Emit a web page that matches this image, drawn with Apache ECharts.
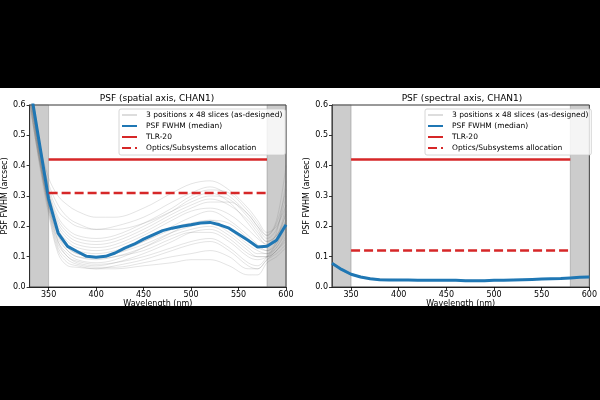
<!DOCTYPE html>
<html>
<head>
<meta charset="utf-8">
<script src="https://cdn.jsdelivr.net/npm/echarts@6/dist/echarts.min.js"></script>
<style>
  html, body { margin: 0; padding: 0; background: #000; }
  #chart { width: 600px; height: 400px; }
</style>
</head>
<body>
<div id="chart"></div>
<script>
// wavelength grid of the median curves (nm)
var medWl = [330, 340, 350, 360, 370, 380, 390, 400, 410, 420, 430, 440, 450, 460, 470,
  480, 490, 500, 510, 520, 530, 540, 550, 560, 570, 580, 590, 600];
var spatialMedian = [0.67, 0.48, 0.29, 0.178, 0.134, 0.117, 0.101, 0.098, 0.101, 0.112, 0.128, 0.141, 0.158, 0.172, 0.186,
  0.194, 0.2, 0.205, 0.211, 0.213, 0.205, 0.194, 0.174, 0.154, 0.132, 0.134, 0.154, 0.205];
var spectralMedian = [0.078, 0.058, 0.042, 0.033, 0.027, 0.024, 0.023, 0.023, 0.023, 0.022, 0.022, 0.022, 0.022, 0.022, 0.021,
  0.021, 0.021, 0.022, 0.022, 0.023, 0.024, 0.025, 0.026, 0.027, 0.028, 0.030, 0.032, 0.033];

// wavelength grid of the individual slice curves (nm)
var sliceWl = [330, 340, 350, 360, 370, 380, 400, 420, 450, 480, 500, 520, 540, 560, 570, 580, 590, 600];
var spatialSlices = [
  [0.66, 0.48, 0.36, 0.30, 0.27, 0.25, 0.23, 0.23, 0.26, 0.31, 0.34, 0.35, 0.32, 0.26, 0.22, 0.18, 0.20, 0.27],
  [0.64, 0.46, 0.34, 0.27, 0.23, 0.21, 0.19, 0.20, 0.23, 0.28, 0.31, 0.33, 0.30, 0.24, 0.20, 0.16, 0.19, 0.30],
  [0.70, 0.48, 0.31, 0.21, 0.17, 0.15, 0.14, 0.15, 0.19, 0.24, 0.27, 0.29, 0.27, 0.22, 0.18, 0.15, 0.17, 0.24],
  [0.62, 0.43, 0.29, 0.19, 0.15, 0.13, 0.12, 0.13, 0.17, 0.22, 0.25, 0.26, 0.24, 0.19, 0.16, 0.14, 0.18, 0.35],
  [0.68, 0.46, 0.28, 0.17, 0.13, 0.11, 0.10, 0.11, 0.15, 0.20, 0.23, 0.25, 0.22, 0.17, 0.14, 0.12, 0.14, 0.20],
  [0.66, 0.44, 0.27, 0.15, 0.11, 0.09, 0.08, 0.09, 0.13, 0.18, 0.21, 0.22, 0.19, 0.14, 0.12, 0.11, 0.13, 0.18],
  [0.60, 0.42, 0.26, 0.14, 0.10, 0.08, 0.07, 0.08, 0.11, 0.15, 0.18, 0.19, 0.16, 0.11, 0.10, 0.10, 0.12, 0.16],
  [0.64, 0.43, 0.25, 0.12, 0.08, 0.07, 0.06, 0.07, 0.09, 0.12, 0.14, 0.15, 0.12, 0.07, 0.06, 0.09, 0.11, 0.14],
  [0.62, 0.41, 0.24, 0.11, 0.07, 0.065, 0.06, 0.06, 0.07, 0.08, 0.09, 0.09, 0.07, 0.04, 0.04, 0.08, 0.10, 0.13],
  [0.66, 0.44, 0.26, 0.13, 0.09, 0.075, 0.065, 0.065, 0.08, 0.10, 0.11, 0.12, 0.10, 0.06, 0.06, 0.09, 0.12, 0.15],
  [0.68, 0.47, 0.30, 0.20, 0.16, 0.14, 0.13, 0.14, 0.18, 0.23, 0.26, 0.28, 0.28, 0.24, 0.20, 0.17, 0.21, 0.32],
  [0.70, 0.49, 0.33, 0.25, 0.22, 0.20, 0.19, 0.19, 0.21, 0.25, 0.28, 0.30, 0.29, 0.23, 0.19, 0.15, 0.17, 0.22],
  [0.65, 0.45, 0.30, 0.19, 0.14, 0.12, 0.11, 0.12, 0.15, 0.19, 0.21, 0.21, 0.18, 0.13, 0.11, 0.11, 0.15, 0.25],
  [0.63, 0.44, 0.28, 0.16, 0.12, 0.10, 0.09, 0.10, 0.12, 0.16, 0.18, 0.18, 0.15, 0.10, 0.09, 0.10, 0.13, 0.19],
  [0.67, 0.46, 0.31, 0.22, 0.18, 0.16, 0.15, 0.16, 0.20, 0.25, 0.29, 0.31, 0.28, 0.21, 0.17, 0.14, 0.16, 0.27],
  [0.61, 0.42, 0.27, 0.17, 0.12, 0.10, 0.095, 0.10, 0.13, 0.17, 0.19, 0.20, 0.17, 0.12, 0.10, 0.10, 0.12, 0.17],
  [0.69, 0.48, 0.32, 0.23, 0.19, 0.17, 0.16, 0.17, 0.21, 0.26, 0.30, 0.32, 0.31, 0.25, 0.21, 0.17, 0.22, 0.40],
  [0.65, 0.45, 0.29, 0.18, 0.13, 0.11, 0.10, 0.11, 0.14, 0.18, 0.20, 0.22, 0.21, 0.16, 0.13, 0.12, 0.15, 0.22],
  [0.63, 0.43, 0.27, 0.15, 0.10, 0.085, 0.075, 0.08, 0.10, 0.13, 0.15, 0.16, 0.13, 0.08, 0.07, 0.10, 0.14, 0.21]
];
var spectralSlices = [
  [0.082, 0.061, 0.045, 0.035, 0.029, 0.026, 0.024, 0.023, 0.023, 0.022, 0.023, 0.024, 0.026, 0.028, 0.029, 0.031, 0.033, 0.035],
  [0.075, 0.055, 0.040, 0.031, 0.026, 0.023, 0.022, 0.021, 0.021, 0.020, 0.021, 0.022, 0.024, 0.026, 0.027, 0.029, 0.031, 0.032],
  [0.080, 0.060, 0.044, 0.036, 0.030, 0.027, 0.025, 0.024, 0.023, 0.022, 0.022, 0.023, 0.025, 0.027, 0.029, 0.031, 0.034, 0.036]
];

// requirement lines (start / end wavelength, level)
var reqWl = [350, 580];
var tlr20 = 0.42;
var allocSpatial = 0.31;
var allocSpectral = 0.12;

// out-of-band shaded ranges
var shadeRanges = [[330, 350], [580, 600]];

var xTicks = [350, 400, 450, 500, 550, 600];

var nameSlices = '3 positions x 48 slices (as-designed)';
var nameMedian = 'PSF FWHM (median)';
var nameTlr = 'TLR-20';
var nameAlloc = 'Optics/Subsystems allocation';

function zip(xs, ys) {
  return xs.map(function (x, i) { return [x, ys[i]]; });
}

var font = 'DejaVu Sans';

function makeX(gi) {
  return {
    type: 'value', gridIndex: gi, min: 330, max: 600,
    name: 'Wavelength (nm)', nameLocation: 'middle', nameGap: 7,
    nameTextStyle: { fontFamily: font, fontSize: 8, color: '#000' },
    axisLine: { show: true, lineStyle: { color: '#000', width: 0.8 } },
    axisTick: { show: true, length: 3, lineStyle: { color: '#000', width: 0.8 }, customValues: xTicks },
    axisLabel: { fontFamily: font, fontSize: 8, color: '#000', margin: 4, customValues: xTicks },
    splitLine: { show: false }
  };
}
function makeY(gi) {
  return {
    type: 'value', gridIndex: gi, min: 0, max: 0.6, interval: 0.1,
    name: 'PSF FWHM (arcsec)', nameLocation: 'middle', nameGap: 20,
    nameTextStyle: { fontFamily: font, fontSize: 8, color: '#000' },
    axisLine: { show: true, lineStyle: { color: '#000', width: 0.8 } },
    axisTick: { show: true, length: 3, lineStyle: { color: '#000', width: 0.8 } },
    axisLabel: { fontFamily: font, fontSize: 8, color: '#000', margin: 4,
      formatter: function (v) { return v.toFixed(1); } },
    splitLine: { show: false }
  };
}

function panelSeries(gi, slices, median, alloc) {
  var out = [];
  slices.forEach(function (s, k) {
    out.push({
      name: nameSlices, type: 'line', xAxisIndex: gi, yAxisIndex: gi,
      data: zip(sliceWl, s), smooth: 0.35, symbol: 'none', silent: true,
      itemStyle: { color: 'rgba(120,120,120,0.2)' },
      lineStyle: { color: 'rgba(120,120,120,0.25)', width: 0.8 },
      markArea: k === 0 ? {
        silent: true,
        itemStyle: { color: 'rgba(128,128,128,0.4)', borderColor: 'rgba(90,90,90,0.5)', borderWidth: 0.6 },
        data: shadeRanges.map(function (r) { return [{ xAxis: r[0] }, { xAxis: r[1] }]; })
      } : undefined,
      z: 2
    });
  });
  out.push({
    name: nameMedian, type: 'line', xAxisIndex: gi, yAxisIndex: gi,
    data: zip(medWl, median), symbol: 'none',
    itemStyle: { color: '#1f77b4' },
    lineStyle: { color: '#1f77b4', width: 3 }, z: 3
  });
  out.push({
    name: nameTlr, type: 'line', xAxisIndex: gi, yAxisIndex: gi,
    data: zip(reqWl, [tlr20, tlr20]), symbol: 'none',
    itemStyle: { color: '#d62728' },
    lineStyle: { color: '#d62728', width: 2.5 }, z: 4
  });
  out.push({
    name: nameAlloc, type: 'line', xAxisIndex: gi, yAxisIndex: gi,
    data: zip(reqWl, [alloc, alloc]), symbol: 'none',
    itemStyle: { color: '#d62728' },
    lineStyle: { color: '#d62728', width: 2.5, type: [9, 4] }, z: 4
  });
  return out;
}

function makeLegend(left) {
  return {
    orient: 'vertical', left: left, top: 109,
    data: [nameSlices, nameMedian, nameTlr, nameAlloc],
    itemWidth: 15, itemHeight: 8, itemGap: 3,
    itemStyle: { opacity: 0 },
    padding: [2, 3, 3, 2],
    backgroundColor: 'rgba(255,255,255,0.8)',
    borderColor: '#cccccc', borderWidth: 0.8, borderRadius: 2,
    textStyle: { fontFamily: font, fontSize: 7.5, color: '#000', lineHeight: 8, padding: [0, 0, 0, 4] },
    selectedMode: false
  };
}

var chart = echarts.init(document.getElementById('chart'), null, { renderer: 'canvas' });
chart.setOption({
  backgroundColor: '#fff',
  animation: false,
  title: [
    { text: 'PSF (spatial axis, CHAN1)', left: 157, top: 94, padding: 0, textAlign: 'center',
      textStyle: { fontFamily: font, fontSize: 9, fontWeight: 'normal', color: '#000' } },
    { text: 'PSF (spectral axis, CHAN1)', left: 462, top: 94, padding: 0, textAlign: 'center',
      textStyle: { fontFamily: font, fontSize: 9, fontWeight: 'normal', color: '#000' } }
  ],
  grid: [
    { left: 27, right: 314, top: 105, bottom: 113, show: true, borderColor: '#000', borderWidth: 0.8, backgroundColor: 'transparent' },
    { left: 332, right: 8, top: 105, bottom: 113, show: true, borderColor: '#000', borderWidth: 0.8, backgroundColor: 'transparent' }
  ],
  xAxis: [makeX(0), makeX(1)],
  yAxis: [makeY(0), makeY(1)],
  legend: [makeLegend(119), makeLegend(425)],
  series: panelSeries(0, spatialSlices, spatialMedian, allocSpatial)
    .concat(panelSeries(1, spectralSlices, spectralMedian, allocSpectral)),
  graphic: [
    { type: 'rect', left: 0, top: 0, z: 100, shape: { width: 600, height: 88 }, style: { fill: '#000' } },
    { type: 'rect', left: 0, top: 306, z: 100, shape: { width: 600, height: 94 }, style: { fill: '#000' } }
  ]
});
</script>
</body>
</html>
